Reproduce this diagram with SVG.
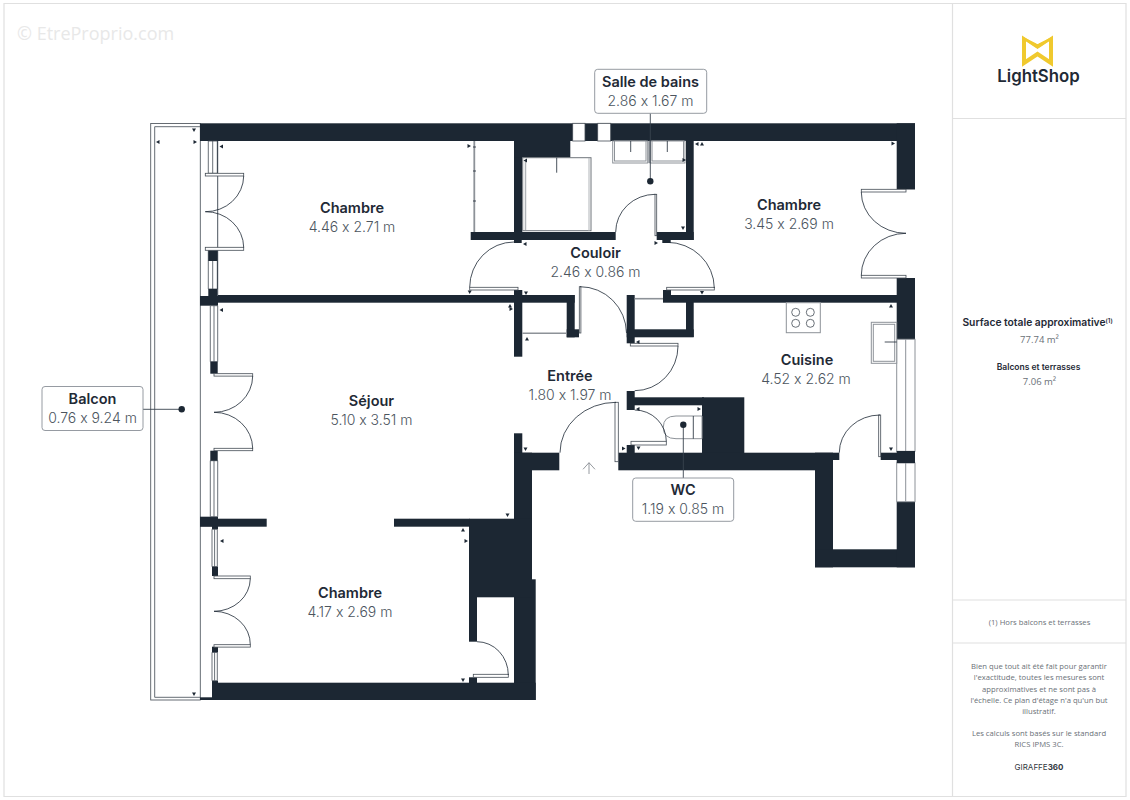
<svg xmlns="http://www.w3.org/2000/svg" width="1130" height="800" viewBox="0 0 1130 800">
<style>
.w{fill:#1c2733}
.l{fill:none;stroke:#1c2733;stroke-width:.8}
.f{fill:#fff;stroke:#444c55;stroke-width:.8}
.g{fill:#fff;stroke:#8d9298;stroke-width:1}
.pl{fill:none;stroke:#e0e0e0;stroke-width:1.2}
text{font-feature-settings:"calt" 0}
.b{font-family:Inter,"Liberation Sans",sans-serif;font-weight:600;font-size:14.5px;fill:#1f2a36;text-anchor:middle}
.r{font-family:Inter,"Liberation Sans",sans-serif;font-weight:300;font-size:14px;fill:#4c555e;text-anchor:middle}
.s{font-family:"Open Sans","Liberation Sans",sans-serif;font-size:7.7px;fill:#6a7077;text-anchor:middle}
.m{font-size:9.5px}
.lb{fill:#fff;stroke:#8a9097;stroke-width:.9}
</style>
<defs>
<path id="t" d="M-2 -1.500L2 -1.500L0 2Z" fill="#1c2733"/>
</defs>
<rect width="1130" height="800" fill="#fff"/>
<g id="frame">
<path class="pl" d="M4 3.500H1126V796.500H4ZM952.500 3.500V796.500M952.500 118.500H1126M952.500 600H1126M952.500 643H1126"/>
</g>
<text x="17" y="40" font-family="Open Sans,sans-serif" font-size="18" fill="#e8e8e8">© EtreProprio.com</text>
<g id="balcon">
<rect x="150.700" y="123.500" width="49.600" height="576.500" fill="#fff" stroke="#555c64" stroke-width=".9"/>
<path d="M200 126.700H154.700V697.300H200" fill="none" stroke="#555c64" stroke-width=".9"/>
</g>
<g id="walls">
<rect class="w" x="200" y="123.300" width="715" height="17.700"/>
<rect class="w" x="896.700" y="123.300" width="18.300" height="66.200"/>
<rect class="w" x="896.700" y="278" width="18.300" height="61.300"/>
<rect class="w" x="514" y="141" width="8.300" height="99"/>
<rect class="w" x="514" y="141" width="56.300" height="16.700"/>
<rect class="w" x="470.700" y="232" width="145" height="8"/>
<rect class="w" x="656.700" y="232" width="37" height="8"/>
<rect class="w" x="686" y="141" width="7.700" height="99"/>
<rect class="w" x="218" y="295" width="356.700" height="7.700"/>
<rect class="w" x="200" y="296" width="18" height="9.700"/>
<rect class="w" x="566.700" y="295" width="8" height="42.300"/>
<rect class="w" x="566.700" y="329.300" width="12.300" height="8"/>
<rect class="w" x="514" y="290" width="8.300" height="66.700"/>
<rect class="w" x="626.700" y="295" width="8" height="48.300"/>
<rect class="w" x="626.700" y="329.300" width="67" height="8"/>
<rect class="w" x="686" y="295" width="7.700" height="42"/>
<rect class="w" x="663" y="295" width="234" height="7.700"/>
<rect class="w" x="663" y="290" width="8" height="6"/>
<rect class="w" x="626.700" y="391" width="8" height="19"/>
<rect class="w" x="634" y="397.300" width="70" height="8"/>
<rect class="w" x="702" y="397.300" width="42.300" height="56"/>
<rect class="w" x="618.300" y="452.700" width="196.700" height="17.600"/>
<rect class="w" x="626.700" y="445" width="8" height="8"/>
<rect class="w" x="815" y="452.700" width="24.300" height="7.300"/>
<rect class="w" x="815" y="452.700" width="18" height="114.600"/>
<rect class="w" x="815" y="549.300" width="100" height="18"/>
<rect class="w" x="896.700" y="501.700" width="18.300" height="65.600"/>
<rect class="w" x="880.700" y="452.700" width="18" height="7.300"/>
<rect class="w" x="514" y="433.300" width="8.300" height="20"/>
<rect class="w" x="514" y="452.700" width="45.300" height="17.600"/>
<rect class="w" x="514" y="452.700" width="18" height="247.300"/>
<rect class="w" x="518" y="579.300" width="17.700" height="120.700"/>
<rect class="w" x="469" y="518.700" width="63" height="78.600"/>
<rect class="w" x="469" y="597" width="8" height="44.700"/>
<rect class="w" x="469" y="677.300" width="8" height="6"/>
<rect class="w" x="212" y="682.700" width="323.700" height="17.300"/>
<rect class="w" x="212" y="680.700" width="6" height="3"/>
<rect class="w" x="200" y="697.300" width="12" height="2.700"/>
<rect class="w" x="200" y="518.700" width="66.700" height="8"/>
<rect class="w" x="200" y="516.700" width="18" height="9.700"/>
<rect class="w" x="212" y="526" width="6" height="3.300"/>
<rect class="w" x="394" y="518.700" width="75.500" height="8"/>
</g>
<g id="windows">
<rect class="f" x="572.700" y="123.300" width="12.300" height="17.700"/>
<rect class="f" x="597.700" y="123.300" width="13" height="17.700"/>
<rect class="g" x="896.700" y="339.300" width="18.300" height="112" />
<rect class="g" x="896.700" y="463" width="18.300" height="38.700"/>
<path d="M905.700 339.300V451M905.700 463V501.700" class="g"/>
<rect class="w" x="896.700" y="451" width="18.300" height="12"/>
<path class="f" d="M208.300 141H217.300V173.300H208.300ZM212.700 141V173.300M208.300 250.300H217.300V289H208.300ZM212.700 261V289"/>
<rect class="w" x="208.300" y="250.300" width="9" height="10.700"/>
<rect class="w" x="208.300" y="289" width="9" height="7"/>
<path class="f" d="M210.300 305.700H217.700V361.700H210.300ZM214 305.700V361.700M210.300 460.700H217.700V516.700H210.300ZM214 460.700V516.700"/>
<rect class="w" x="210.300" y="361.700" width="7.400" height="12"/>
<rect class="w" x="210.300" y="450.700" width="7.400" height="10"/>
<path class="f" d="M212 529.300H217.300V566.700H212ZM214.600 529.300V566.700M212 652.300H217.300V680.700H212ZM214.600 652.300V680.700"/>
<rect class="w" x="212" y="566.700" width="6" height="9.300"/>
<rect class="w" x="212" y="646.700" width="6" height="5.600"/>
<path d="M217.700 141V296" class="l"/>
</g>
<g id="fixtures">
<path d="M474.300 141V232" fill="none" stroke="#8d9298" stroke-width="1.800"/>
<path d="M473 147H476M473 171H476M473 201H476" class="l"/>
<rect x="522.700" y="157.700" width="68.300" height="73" fill="#fff" stroke="#6e747b" stroke-width="1"/>
<path d="M525.500 160V230" stroke="#b0b4b8" stroke-width="1.500" fill="none"/>
<path d="M589 158V231" stroke="#b0b4b8" stroke-width="1" fill="none"/>
<path d="M556.700 157.700V172.700" class="l"/>
<rect class="g" x="612.700" y="141" width="35" height="22"/>
<rect class="g" x="614.500" y="141" width="31.500" height="20"/>
<rect class="g" x="650" y="141" width="35" height="22"/>
<rect class="g" x="652" y="141" width="31.500" height="20"/>
<path d="M630.700 141V152M667.300 141V152" class="l"/>
<path d="M649.300 141V163" stroke="#8d9298" stroke-width="2" fill="none"/>
<path d="M522.300 333.300H566.700" stroke="#8d9298" stroke-width="1.600" fill="none"/>
<path d="M634.700 298.700H663" stroke="#8d9298" stroke-width="1.600" fill="none"/>
<rect class="g" x="786.300" y="302.700" width="34" height="30"/>
<g fill="#fff" stroke="#444c55" stroke-width=".8"><circle cx="795.700" cy="312.300" r="4"/><circle cx="810.300" cy="312.300" r="4"/><circle cx="795.700" cy="323.300" r="4"/><circle cx="810.300" cy="323.300" r="4"/></g>
<rect class="g" x="871.300" y="322.300" width="25.400" height="41"/>
<rect class="g" x="873.300" y="324.300" width="21.400" height="37"/>
<path d="M884.700 342H896.700" class="l"/>
<path d="M702 416H676Q663.300 416 663.300 427.300Q663.300 438.700 676 438.700H702Z" class="g"/>
<path d="M693.300 416V438.700" class="l"/>
</g>
<g id="doors">
<rect class="f" x="205.300" y="173.300" width="38.400" height="2.700"/>
<rect class="f" x="205.300" y="247.300" width="38.400" height="3"/>
<path class="l" d="M243.700 176A38 36 0 0 1 205.300 211.700A38 36 0 0 1 243.700 247.300"/>
<rect class="f" x="214" y="373.700" width="38.700" height="2.400"/>
<rect class="f" x="214" y="448.300" width="38.700" height="2.400"/>
<path class="l" d="M252.700 376A38.700 36.500 0 0 1 214 412.300A38.700 36.500 0 0 1 252.700 448.300"/>
<rect class="f" x="214" y="576" width="36.300" height="2.700"/>
<rect class="f" x="214" y="644.700" width="36.300" height="2.400"/>
<path class="l" d="M250.300 578.700A36.300 33 0 0 1 214 611.300A36.300 33 0 0 1 250.300 644.700"/>
<rect class="f" x="469.700" y="287.300" width="48.300" height="2.700"/>
<rect class="w" x="514" y="240" width="7.700" height="3"/>
<path class="l" d="M514 242A44.300 45.500 0 0 0 469.700 287.300"/>
<rect class="f" x="666.700" y="287.300" width="47.600" height="2.700"/>
<rect class="w" x="662.300" y="240" width="8.400" height="3"/>
<path class="l" d="M667 242.300A47.300 46 0 0 1 714.300 288"/>
<rect class="f" x="655" y="194.300" width="1.700" height="41.400"/>
<path class="l" d="M655.300 194.300A39.600 37.700 0 0 0 615.700 232"/>
<rect class="f" x="579.300" y="286.700" width="1.600" height="46.300"/>
<path class="l" d="M580 286.700A46.500 47 0 0 1 626.500 333"/>
<rect class="f" x="861.300" y="189.300" width="44.700" height="2.700"/>
<rect class="f" x="861.300" y="275.300" width="44.700" height="2.700"/>
<path class="l" d="M861.300 192A44.700 41.300 0 0 0 906 233.300A44.700 42 0 0 0 861.300 275.300"/>
<rect class="f" x="630.300" y="343.300" width="47.700" height="2.700"/>
<path class="l" d="M678 346A43.300 44.700 0 0 1 634.700 390.700"/>
<rect class="f" x="615" y="402.300" width="3.300" height="59.400"/>
<path class="l" d="M616 402.300A56 50.400 0 0 0 560 452.700"/>
<rect class="f" x="631" y="441.300" width="35.300" height="3.700"/>
<path class="l" d="M634.700 410A31.600 31.300 0 0 1 666.300 441.300"/>
<rect class="f" x="878.700" y="415" width="2" height="41.700"/>
<path class="l" d="M880 415A40.700 37.700 0 0 0 839.300 452.700"/>
<rect class="f" x="473.300" y="674.300" width="35" height="3"/>
<path class="l" d="M477 641.700A31.300 33.300 0 0 1 508.300 675"/>
<path d="M583 469.300L589 462.700L595 469.300M589 462.700V474" fill="none" stroke="#7c8288" stroke-width=".8"/>
</g>
<g id="ticks">
<use href="#t" x="194" y="130"/><use href="#t" transform="translate(158 142) rotate(90)"/><use href="#t" transform="translate(195 142) rotate(-90)"/>
<use href="#t" transform="translate(221.500 146.500) rotate(90)"/><use href="#t" transform="translate(469 146) rotate(-90)"/>
<use href="#t" transform="translate(525.500 160.500) rotate(90)"/>
<use href="#t" transform="translate(525 244) rotate(90)"/><use href="#t" x="526" y="293"/><use href="#t" x="469.700" y="292"/>
<use href="#t" transform="translate(510 306) rotate(180)"/><use href="#t" transform="translate(511 309) rotate(-90)"/>
<use href="#t" transform="translate(527 339) rotate(180)"/><use href="#t" transform="translate(221.500 310) rotate(90)"/>
<use href="#t" transform="translate(656 243) rotate(-90)"/><use href="#t" x="702" y="292.500"/>
<use href="#t" transform="translate(697 144) rotate(90)"/><use href="#t" transform="translate(702 144) rotate(180)"/>
<use href="#t" transform="translate(893 143.500) rotate(-90)"/><use href="#t" x="683" y="228"/>
<use href="#t" transform="translate(684 160) rotate(-90)"/><use href="#t" transform="translate(891 306) rotate(180)"/>
<use href="#t" transform="translate(638 342) rotate(90)"/><use href="#t" transform="translate(638 409) rotate(90)"/>
<use href="#t" transform="translate(699 409) rotate(-90)"/><use href="#t" x="525.500" y="449"/>
<use href="#t" x="638.500" y="448"/><use href="#t" transform="translate(623.500 448.500) rotate(-90)"/>
<use href="#t" x="891" y="449"/><use href="#t" x="507.500" y="515"/>
<use href="#t" transform="translate(463 530) rotate(180)"/><use href="#t" transform="translate(466 541) rotate(-90)"/>
<use href="#t" transform="translate(222 541) rotate(90)"/><use href="#t" x="463" y="680"/><use href="#t" x="194" y="694"/>
</g>
<g id="connectors">
<path d="M650.300 113.300V181.300M683.300 424.700V478M143 409.300H181.700" fill="none" stroke="#3a444e" stroke-width=".9"/>
<circle cx="650.300" cy="181.300" r="3.200" class="w"/>
<circle cx="683.300" cy="424.700" r="3.200" class="w"/>
<circle cx="181.700" cy="409.300" r="3.200" class="w"/>
</g>
<g id="room-chambre-1"><text class="b" x="352" y="213">Chambre</text><text class="r" x="352" y="232">4.46 x 2.71 m</text></g>
<g id="room-chambre-2"><text class="b" x="789" y="210">Chambre</text><text class="r" x="789" y="229">3.45 x 2.69 m</text></g>
<g id="room-couloir"><text class="b" x="595.500" y="258">Couloir</text><text class="r" x="595.500" y="277">2.46 x 0.86 m</text></g>
<g id="room-entree"><text class="b" x="570" y="381">Entrée</text><text class="r" x="570" y="400">1.80 x 1.97 m</text></g>
<g id="room-cuisine"><text class="b" x="807" y="365">Cuisine</text><text class="r" x="806" y="384">4.52 x 2.62 m</text></g>
<g id="room-sejour"><text class="b" x="371.500" y="406">Séjour</text><text class="r" x="371.500" y="425">5.10 x 3.51 m</text></g>
<g id="room-chambre-3"><text class="b" x="350" y="598">Chambre</text><text class="r" x="350" y="617">4.17 x 2.69 m</text></g>
<g id="label-sdb"><rect class="lb" x="594.700" y="69.300" width="112" height="44" rx="3"/><text class="b" x="650.500" y="87">Salle de bains</text><text class="r" x="650.500" y="106">2.86 x 1.67 m</text></g>
<g id="label-wc"><rect class="lb" x="632.700" y="478" width="101" height="43.300" rx="3"/><text class="b" x="683" y="495">WC</text><text class="r" x="683" y="514">1.19 x 0.85 m</text></g>
<g id="label-balcon"><rect class="lb" x="42" y="386.500" width="101" height="44" rx="3"/><text class="b" x="92.500" y="404">Balcon</text><text class="r" x="92.500" y="423">0.76 x 9.24 m</text></g>
<g id="logo">
<path d="M1024 37.500L1037.500 46.500L1051 37.500V63L1037.500 54L1024 63Z" fill="none" stroke="#f0c92e" stroke-width="4"/>
<path d="M1021 33.500H1054V36L1037.500 44L1021 36Z" fill="#fff"/>
<path d="M1022 35.500L1037.500 45.500L1053 35.500V38.500L1037.500 48.500L1022 38.500Z" fill="#f0c92e"/>
<text x="1038.500" y="82" font-family="Inter,sans-serif" font-weight="600" font-size="16.800" fill="#1f2a36" text-anchor="middle">LightShop</text>
</g>
<g id="panel">
<text x="1037.500" y="325.500" font-family="Inter,sans-serif" font-size="10.300" font-weight="600" fill="#1f2a36" text-anchor="middle">Surface totale approximative<tspan font-size="6" dy="-3">(1)</tspan></text>
<text class="s m" x="1039.500" y="343">77.74 m²</text>
<text x="1038.500" y="370" font-family="Inter,sans-serif" font-size="8.500" font-weight="600" fill="#1f2a36" text-anchor="middle">Balcons et terrasses</text>
<text class="s m" x="1039.500" y="385">7.06 m²</text>
<text class="s" x="1039.500" y="625">(1) Hors balcons et terrasses</text>
<text class="s" x="1039" y="669">Bien que tout ait été fait pour garantir</text>
<text class="s" x="1039" y="680">l'exactitude, toutes les mesures sont</text>
<text class="s" x="1039" y="692">approximatives et ne sont pas à</text>
<text class="s" x="1039" y="703">l'échelle. Ce plan d'étage n'a qu'un but</text>
<text class="s" x="1039" y="714">illustratif.</text>
<text class="s" x="1039" y="736">Les calculs sont basés sur le standard</text>
<text class="s" x="1039" y="747">RICS IPMS 3C.</text>
<text x="1039" y="770" font-family="Inter,sans-serif" font-size="8" fill="#333a42" text-anchor="middle">GIRAFFE<tspan font-weight="700">360</tspan></text>
</g>
</svg>
